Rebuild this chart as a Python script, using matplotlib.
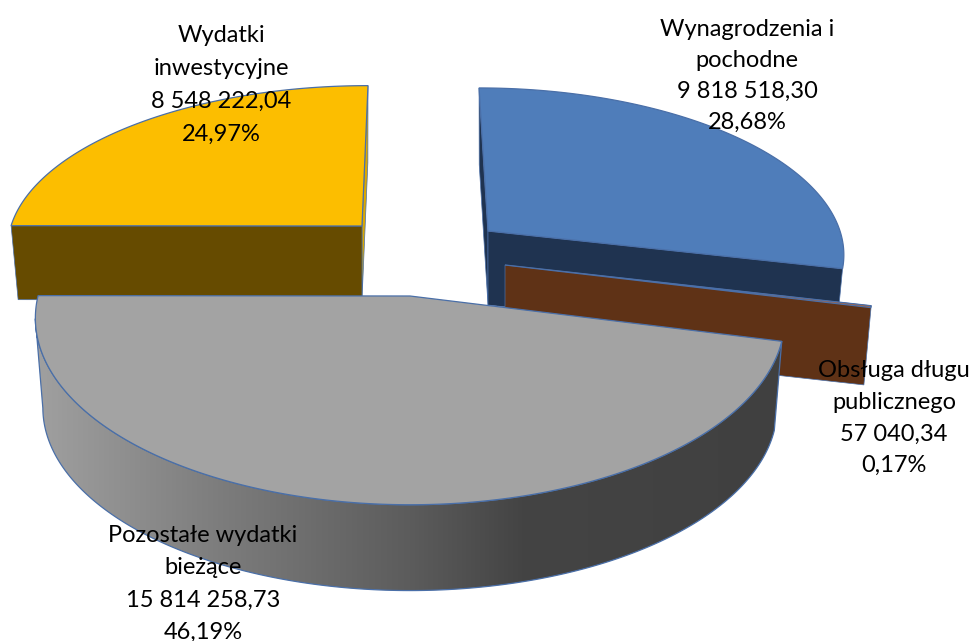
import numpy as np
import matplotlib
matplotlib.use("Agg")
import matplotlib.pyplot as plt
from matplotlib.colors import LinearSegmentedColormap
from matplotlib.patches import Polygon

# Dane: kolejnosc zgodnie z ruchem wskazowek zegara, od gory
nazwy = ["Wynagrodzenia i\npochodne", "Obsługa długu\npublicznego",
         "Pozostałe wydatki\nbieżące", "Wydatki\ninwestycyjne"]
kwoty = [9818518.30, 57040.34, 15814258.73, 8548222.04]

# Rzut: srodek, promienie, skos, wysokosc sciany i zwezenie dolu
srodki = [(488, 231), (505, 265), (410, 296), (362, 226)]
promienie_x = [352, 366, 372, 351]
promienie_y = [160, 173, 184, 157]
skosy = [-10, 0, 0, 6.7]
wysokosci = [74, 80, 90, 74]
zwezenie = 0.98
perspektywa = 0.1185

kolory_gora = ["#4f7dba", "#c0622a", "#a3a3a3", "#fcbe00"]
kolor_krawedzi = "#4a6fa8"

pozycje_etykiet = [(747, 76), (894, 418), (203, 584), (221, 85)]
odstepy = [1.6, 1.63, 1.66, 1.7]


def rzut(theta, nr, dol=False):
    # theta w stopniach, 0 na gorze, rosnie zgodnie z zegarem
    t = np.radians(theta)
    u, v = np.sin(t), np.cos(t)
    cx, cy = srodki[nr]
    s = 1.0
    if dol:
        cy = cy + wysokosci[nr]
        s = zwezenie
    m = 1 + perspektywa * v
    x = cx + s * (promienie_x[nr] * u + skosy[nr] * v) / m
    y = cy - s * promienie_y[nr] * v / m
    return np.column_stack([x, y])


def srodek(nr, dol=False):
    cx, cy = srodki[nr]
    return np.array([[cx, cy + wysokosci[nr] if dol else cy]])


def sciana(ax, theta, nr, kolor, z):
    # sciana radialna od srodka do obwodu
    th = np.array([theta])
    pts = np.vstack([srodek(nr), rzut(th, nr), rzut(th, nr, True), srodek(nr, True)])
    ax.add_patch(Polygon(pts, closed=True, fc=kolor, ec=kolor_krawedzi, lw=0.5, zorder=z))


def gora(ax, t0, t1, nr, z):
    th = np.linspace(t0, t1, 200)
    pts = np.vstack([srodek(nr), rzut(th, nr)])
    ax.add_patch(Polygon(pts, closed=True, fc=kolory_gora[nr], ec=kolor_krawedzi, lw=0.9, zorder=z))


kwoty_arr = np.array(kwoty)
razem = kwoty_arr.sum()
katy = np.concatenate([[0], np.cumsum(kwoty_arr) / razem * 360])

fig = plt.figure(figsize=(9.73, 6.41), dpi=100)
ax = fig.add_axes([0, 0, 1, 1])

# Wydatki inwestycyjne
sciana(ax, katy[4], 3, "#dba800", 1)
sciana(ax, katy[3], 3, "#664b00", 2)
gora(ax, katy[3], katy[4], 3, 3)

# Wynagrodzenia
sciana(ax, katy[0], 0, "#1f3350", 4)
sciana(ax, katy[1], 0, "#1f3350", 5)
gora(ax, katy[0], katy[1], 0, 6)

# Obsluga dlugu - widac prawie tylko sciane
sciana(ax, katy[1], 1, "#5f3216", 7)
gora(ax, katy[1], katy[2], 1, 8)

# Pozostale wydatki - sciana z gradientem, od skrajnie lewego punktu obwodu
th = np.linspace(katy[2], katy[3], 400)
rant_gora = rzut(th, 2)
rant_dol = rzut(th, 2, True)
obrys = np.vstack([rant_gora[:np.argmin(rant_gora[:, 0]) + 1],
                   rant_dol[:np.argmin(rant_dol[:, 0]) + 1][::-1]])
sciana_boczna = Polygon(obrys, closed=True, fc="none", ec=kolor_krawedzi, lw=0.9, zorder=10)
ax.add_patch(sciana_boczna)
gradient = LinearSegmentedColormap.from_list(
    "szary", [(0, "#a0a0a0"), (0.25, "#7c7c7c"), (0.5, "#5c5c5c"), (0.65, "#444444"), (1, "#404040")])
obraz = ax.imshow(np.linspace(0, 1, 256).reshape(1, -1), cmap=gradient, aspect="auto",
                  extent=(35, 785, 600, 290), zorder=9)
obraz.set_clip_path(sciana_boczna)
gora(ax, katy[2], katy[3], 2, 11)


def kwota_tekst(k):
    s = f"{k:,.2f}".replace(",", " ").replace(".", ",")
    return s


for i in range(4):
    proc = f"{kwoty[i] / razem * 100:.2f}".replace(".", ",")
    opis = f"{nazwy[i]}\n{kwota_tekst(kwoty[i])}\n{proc}%"
    ax.text(pozycje_etykiet[i][0], pozycje_etykiet[i][1], opis, ha="center", va="center",
            fontsize=17, family="Lato", color="black", linespacing=odstepy[i], zorder=20)

ax.set_xlim(0, 973)
ax.set_ylim(641, 0)
ax.axis("off")
fig.savefig("out.png", dpi=100)
